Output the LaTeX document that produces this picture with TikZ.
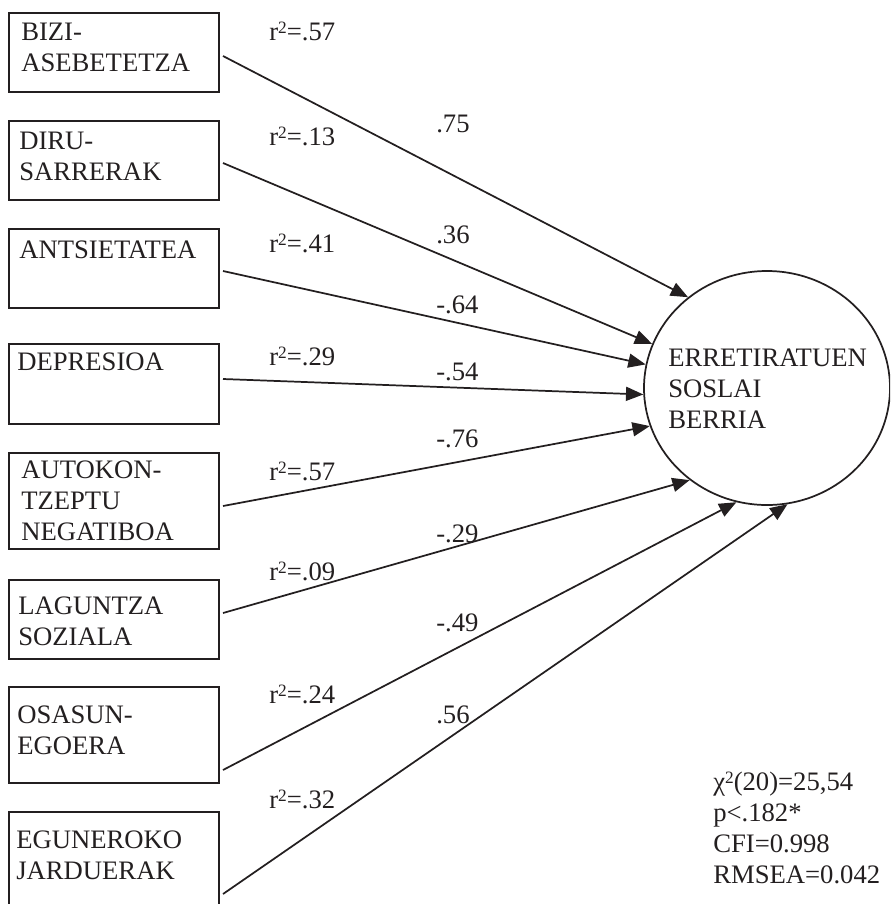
\documentclass[tikz,border=0pt]{standalone}
\usepackage{fontspec}
\setmainfont{Liberation Serif}
\usetikzlibrary{shapes.geometric,arrows.meta}
\definecolor{ink}{HTML}{231F20}
\newcommand{\ml}[1]{\begin{tabular}[t]{@{}l@{}}#1\end{tabular}}
\newcommand{\sqr}{\raisebox{5.25pt}{\fontsize{13}{13}\selectfont 2}}
\begin{document}
\begin{tikzpicture}[x=0.75pt,y=-0.75pt,
  every node/.style={font=\fontsize{20}{23.25}\selectfont, text=ink, inner sep=0pt},
  box/.style={draw=ink, line width=1.3pt, rectangle, anchor=north west, minimum width=157.5pt},
  lbl/.style={anchor=base west},
  arr/.style={draw=ink, line width=1.3pt, -{Triangle[length=13pt,width=10.5pt]}},
  latent/.style={draw=ink, line width=1.3pt, ellipse, minimum width=184.5pt, minimum height=175.5pt}]
\useasboundingbox (0,0) rectangle (890,904);
\clip (0,0) rectangle (890,904);
% boxes
\node[box, minimum height=79*0.75pt] (b1) at (8,12) {};
\node[box, minimum height=79*0.75pt] (b2) at (8,120) {};
\node[box, minimum height=79*0.75pt] (b3) at (8,228) {};
\node[box, minimum height=80*0.75pt] (b4) at (8,343) {};
\node[box, minimum height=96*0.75pt] (b5) at (8,452) {};
\node[box, minimum height=79*0.75pt] (b6) at (8,579) {};
\node[box, minimum height=96*0.75pt] (b7) at (8,686) {};
\node[box, minimum height=110*0.75pt] (b8) at (8,811) {};
% box texts
\node[lbl] (t1) at (21,40) {\ml{BIZI-\\ASEBETETZA}};
\node[lbl] (t2) at (19,149) {\ml{DIRU-\\SARRERAK}};
\node[lbl] (t3) at (19,258) {\ml{ANTSIETATEA}};
\node[lbl] (t4) at (17,370) {\ml{DEPRESIOA}};
\node[lbl] (t5) at (21,478) {\ml{AUTOKON-\\TZEPTU\\NEGATIBOA}};
\node[lbl] (t6) at (18,614) {\ml{LAGUNTZA\\SOZIALA}};
\node[lbl] (t7) at (17,723) {\ml{OSASUN-\\EGOERA}};
\node[lbl] (t8) at (16,848) {\ml{EGUNEROKO\\JARDUERAK}};
% latent
\node[latent] (ell) at (767,388) {};
\node[lbl] (et) at (668,366) {\ml{ERRETIRATUEN\\SOSLAI\\BERRIA}};
% arrows
\coordinate (s1) at (223,56);
\coordinate (s2) at (223,163);
\coordinate (s3) at (223,271);
\coordinate (s4) at (223,379);
\coordinate (s5) at (223,506);
\coordinate (s6) at (223,613);
\coordinate (s7) at (223,770);
\coordinate (s8) at (223,894);
\draw[arr] (s1) -- (ell.131.6);
\draw[arr] (s2) -- (ell.159.5);
\draw[arr] (s3) -- (ell.169.5);
\draw[arr] (s4) -- (ell.183.7);
\draw[arr] (s5) -- (ell.198.7);
\draw[arr] (s6) -- (ell.230.1);
\draw[arr] (s7) -- (ell.255.5);
\draw[arr] (s8) -- (ell.280);
% r2 labels
\node[lbl] (r1) at (269,40) {r\sqr=.57};
\node[lbl] (r2) at (269,145) {r\sqr=.13};
\node[lbl] (r3) at (269,252) {r\sqr=.41};
\node[lbl] (r4) at (269,365) {r\sqr=.29};
\node[lbl] (r5) at (269,480) {r\sqr=.57};
\node[lbl] (r6) at (269,580) {r\sqr=.09};
\node[lbl] (r7) at (269,703) {r\sqr=.24};
\node[lbl] (r8) at (269,808) {r\sqr=.32};
% coefficients
\node[lbl] (c1) at (436,132) {.75};
\node[lbl] (c2) at (436,243) {.36};
\node[lbl] (c3) at (436,313) {-.64};
\node[lbl] (c4) at (436,380) {-.54};
\node[lbl] (c5) at (436,447) {-.76};
\node[lbl] (c6) at (436,542) {-.29};
\node[lbl] (c7) at (436,631) {-.49};
\node[lbl] (c8) at (436,723) {.56};
% fit statistics
\node[lbl] (fit) at (713,790) {\ml{χ\sqr(20)=25,54\\p<.182*\\CFI=0.998\\RMSEA=0.042}};
\end{tikzpicture}
\end{document}
